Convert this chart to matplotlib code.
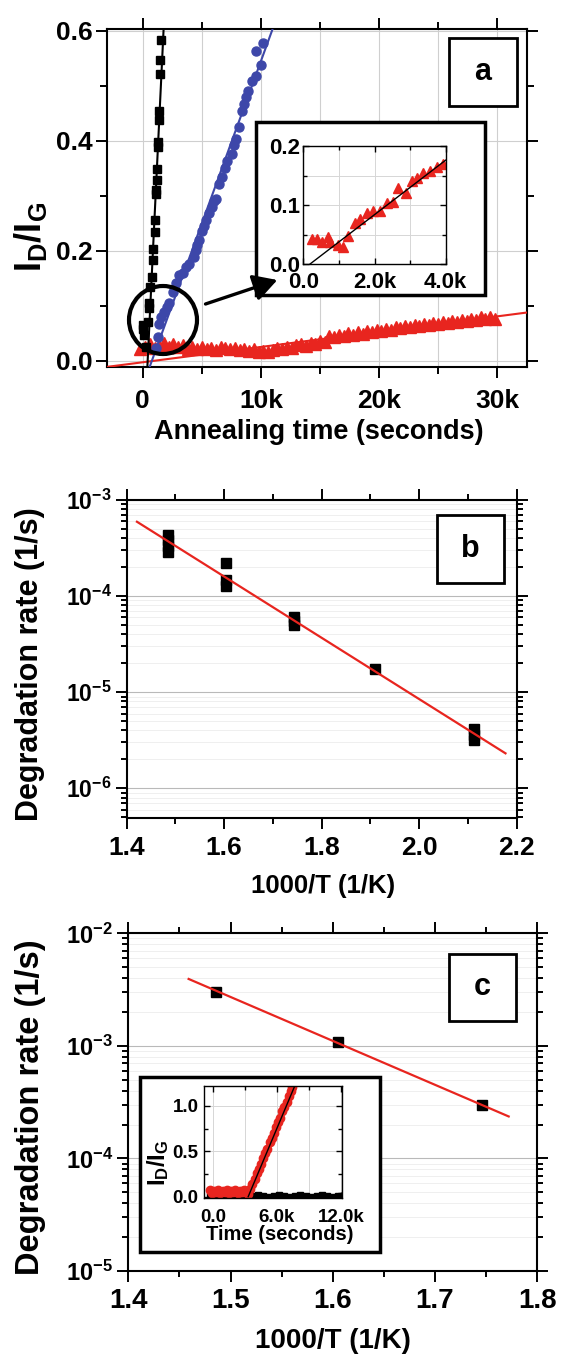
import numpy as np
import matplotlib
matplotlib.use("Agg")
import matplotlib.pyplot as plt
from matplotlib.patches import Rectangle, Ellipse, FancyArrowPatch
from matplotlib.ticker import MultipleLocator, LogLocator, NullFormatter

RED = '#e8251f'
BLUE = '#3d47a9'

# ---- panel a : I_D/I_G against annealing time ----
a_black_t = [1550, 1490, 1430, 1350, 1400, 1300, 1290, 1210, 1180, 1130, 1110, 1050,
             1040, 900, 850, 760, 620, 565, 507, 424, 0, 0, 143, 287]
a_black_r = [0.583, 0.547, 0.521, 0.454, 0.437, 0.398, 0.389, 0.349, 0.328, 0.310, 0.304, 0.256,
             0.234, 0.204, 0.183, 0.153, 0.135, 0.105, 0.096, 0.071, 0.065, 0.058, 0.047, 0.026]

a_blue_t = [10200, 9560, 9980, 9560, 9280, 8900, 8720, 8580, 8430, 8150, 7870, 7700, 7590, 7170,
            7000, 6750, 6470, 6190, 6000, 5900, 5620, 5350, 5200, 5060, 4780, 4620, 4500, 4360,
            3940, 3650, 3400, 3090, 2820, 2550, 2250, 2050, 1830, 1550, 1410, 1270, 1130]
a_blue_r = [0.577, 0.564, 0.537, 0.518, 0.509, 0.490, 0.479, 0.467, 0.455, 0.425, 0.404, 0.392, 0.376, 0.364,
            0.350, 0.334, 0.322, 0.295, 0.290, 0.280, 0.268, 0.256, 0.245, 0.237, 0.219, 0.210, 0.201, 0.189,
            0.177, 0.170, 0.160, 0.156, 0.141, 0.125, 0.105, 0.098, 0.089, 0.080, 0.068, 0.044, 0.023]

a_red_t = [-200, 200, 600, 1000, 1400, 1800, 2200, 2600, 3000, 3400,
           3800, 4200, 4600, 5000, 5400, 5800, 6200, 6600, 7000, 7400,
           7800, 8200, 8600, 9000, 9400, 9800, 10200, 10600, 11000, 11400,
           11800, 12200, 12600, 13000, 13400, 13800, 14200, 14600, 15000, 15400,
           15800, 16200, 16600, 17000, 17400, 17800, 18200, 18600, 19000, 19400,
           19800, 20200, 20600, 21000, 21400, 21800, 22200, 22600, 23000, 23400,
           23800, 24200, 24600, 25000, 25400, 25800, 26200, 26600, 27000, 27400,
           27800, 28200, 28600, 29000, 29400, 29800]
a_red_r = [0.022, 0.026, 0.031, 0.024, 0.028, 0.033, 0.025, 0.030, 0.026, 0.029,
           0.022, 0.025, 0.021, 0.026, 0.022, 0.024, 0.020, 0.025, 0.023, 0.021,
           0.024, 0.020, 0.022, 0.019, 0.021, 0.017, 0.019, 0.016, 0.020, 0.023,
           0.021, 0.026, 0.024, 0.029, 0.031, 0.028, 0.033, 0.031, 0.036, 0.034,
           0.046, 0.043, 0.047, 0.045, 0.050, 0.048, 0.052, 0.049, 0.054, 0.052,
           0.056, 0.054, 0.058, 0.056, 0.061, 0.059, 0.063, 0.061, 0.066, 0.063,
           0.067, 0.065, 0.069, 0.067, 0.071, 0.069, 0.073, 0.071, 0.074, 0.072,
           0.077, 0.074, 0.079, 0.076, 0.080, 0.077]

# fitted lines, end points
a_fit_black_t = [395, 1769]
a_fit_black_r = [-0.011, 0.603]
a_fit_blue_t = [584, 10990]
a_fit_blue_r = [-0.011, 0.603]
a_fit_red_t = [-3040, 32500]
a_fit_red_r = [-0.0108, 0.088]

a_xticks = [0, 10000, 20000, 30000]
a_xlabels = ['0', '10k', '20k', '30k']
a_yticks = [0.0, 0.2, 0.4, 0.6]
a_ylabels = ['0.0', '0.2', '0.4', '0.6']

# inset of panel a (first 4k seconds, red set)
ins_a_t = [240, 380, 520, 700, 750, 980, 1120, 1260, 1450, 1590, 1800, 1970, 2150, 2340,
           2530, 2670, 2880, 3040, 3180, 3350, 3560, 3750, 3930]
ins_a_r = [0.043, 0.043, 0.038, 0.045, 0.038, 0.032, 0.029, 0.047, 0.069, 0.077, 0.087, 0.089,
           0.089, 0.104, 0.105, 0.128, 0.120, 0.140, 0.146, 0.154, 0.157, 0.164, 0.169]
ins_a_fit_t = [190, 4000]
ins_a_fit_r = [0.0, 0.176]
ins_a_xticks = [0, 2000, 4000]
ins_a_xlabels = ['0.0', '2.0k', '4.0k']
ins_a_yticks = [0.0, 0.1, 0.2]
ins_a_ylabels = ['0.0', '0.1', '0.2']

# ---- panel b : Arrhenius plot ----
b_x = [1.485, 1.485, 1.485, 1.485, 1.604, 1.604, 1.604, 1.744, 1.744, 1.744, 1.909, 2.113, 2.113, 2.113]
b_rate = [4.3e-4, 3.8e-4, 3.3e-4, 2.9e-4, 2.23e-4, 1.47e-4, 1.27e-4, 6.1e-5, 5.5e-5, 5.0e-5,
          1.73e-5, 4.1e-6, 3.6e-6, 3.2e-6]
b_fit_x = [1.421, 2.177]
b_fit_rate = [5.94e-4, 2.31e-6]
b_xticks = [1.4, 1.6, 1.8, 2.0, 2.2]
b_xlabels = ['1.4', '1.6', '1.8', '2.0', '2.2']
b_yticks = [1e-6, 1e-5, 1e-4, 1e-3]
b_ylabels = [r'$\mathbf{10^{-6}}$', r'$\mathbf{10^{-5}}$', r'$\mathbf{10^{-4}}$', r'$\mathbf{10^{-3}}$']

# ---- panel c ----
c_x = [1.486, 1.605, 1.746]
c_rate = [3.02e-3, 1.09e-3, 2.99e-4]
c_fit_x = [1.459, 1.772]
c_fit_rate = [3.93e-3, 2.36e-4]
c_xticks = [1.4, 1.5, 1.6, 1.7, 1.8]
c_xlabels = ['1.4', '1.5', '1.6', '1.7', '1.8']
c_yticks = [1e-5, 1e-4, 1e-3, 1e-2]
c_ylabels = [r'$\mathbf{10^{-5}}$', r'$\mathbf{10^{-4}}$', r'$\mathbf{10^{-3}}$', r'$\mathbf{10^{-2}}$']

# inset of panel c
ins_c_black_t = [-300, 200, 700, 1200, 1700, 2200, 2700, 3200, 3700, 4200, 4700, 5200, 5700,
                 6200, 6700, 7200, 7700, 8200, 8700, 9200, 9700, 10200, 10700, 11200, 11700, 12000]
ins_c_black_r = [0.01, 0.00, 0.01, 0.00, 0.01, 0.00, 0.01, 0.00, 0.01, 0.02, 0.01, 0.00, 0.01,
                 0.02, 0.01, 0.00, 0.01, 0.02, 0.01, 0.00, 0.01, 0.02, 0.01, 0.00, 0.01, 0.01]
ins_c_red_t = [-300, -100, 100, 300, 500, 700, 900, 1100, 1300, 1500, 1700, 1900, 2100, 2300,
               2500, 2700, 2900, 3100, 3300, 3500, 3700, 3900, 4100, 4300, 4500, 4700, 4900,
               5100, 5300, 5500, 5700, 5900, 6100, 6300, 6500, 6700, 6900, 7100, 7300, 7450]
ins_c_red_r = [0.07, 0.04, 0.06, 0.05, 0.07, 0.04, 0.06, 0.05, 0.07, 0.04, 0.06, 0.05, 0.07, 0.04,
               0.06, 0.05, 0.07, 0.05, 0.03, 0.09, 0.14, 0.19, 0.26, 0.31, 0.36, 0.43, 0.48,
               0.53, 0.60, 0.65, 0.70, 0.77, 0.82, 0.87, 0.94, 0.99, 1.04, 1.11, 1.16, 1.21]
ins_c_fit_t = [3300, 7660]
ins_c_fit_r = [0.0, 1.22]
ins_c_xticks = [0, 6000, 12000]
ins_c_xlabels = ['0.0', '6.0k', '12.0k']
ins_c_yticks = [0.0, 0.5, 1.0]
ins_c_ylabels = ['0.0', '0.5', '1.0']

plt.rcParams['font.family'] = ['Liberation Sans', 'DejaVu Sans']
plt.rcParams['font.weight'] = 'bold'
plt.rcParams['mathtext.fontset'] = 'custom'
plt.rcParams['mathtext.rm'] = 'Liberation Sans:bold'
plt.rcParams['mathtext.bf'] = 'Liberation Sans:bold'
plt.rcParams['mathtext.it'] = 'Liberation Sans:bold'

W, H = 561, 1358
fig = plt.figure(figsize=(W / 100, H / 100), dpi=100)


def axes_px(left, top, right, bottom, z=0):
    return fig.add_axes([left / W, 1 - bottom / H, (right - left) / W, (bottom - top) / H], zorder=z)


def frame_px(left, top, right, bottom, lw, z):
    fig.add_artist(Rectangle((left / W, 1 - bottom / H), (right - left) / W, (bottom - top) / H,
                             transform=fig.transFigure, facecolor='white', edgecolor='black',
                             lw=lw, zorder=z))


def panel_letter(left, top, right, bottom, letter):
    frame_px(left, top, right, bottom, 2.0, 2)
    fig.text((left + right) / 2 / W, 1 - (top + bottom) / 2 / H, letter, ha='center', va='center',
             fontsize=22, fontweight='bold', zorder=3)


def style(ax, direction='out', length=7, minor_len=4, width=1.4, spine=1.5):
    ax.tick_params(which='both', direction=direction, top=True, right=True, width=width)
    ax.tick_params(which='major', length=length)
    ax.tick_params(which='minor', length=minor_len)
    for s in ax.spines.values():
        s.set_linewidth(spine)


def labels(ax, xtext, ytext, xpos, ypos, xsize, ysize):
    ax.set_xlabel(xtext, fontsize=xsize, fontweight='bold')
    ax.set_ylabel(ytext, fontsize=ysize, fontweight='bold')
    ax.xaxis.set_label_coords(*xpos)
    ax.yaxis.set_label_coords(*ypos)
    ax.xaxis.label.set_va('center')
    ax.yaxis.label.set_va('center')


# ================= panel a =================
axA = axes_px(107, 28.5, 526.7, 366.7)
axA.plot(a_red_t, a_red_r, '^', color=RED, ms=8, mec=RED, zorder=2)
axA.plot(a_blue_t, a_blue_r, 'o', color=BLUE, ms=6.5, mec=BLUE, zorder=2)
axA.plot(a_black_t, a_black_r, 's', color='black', ms=5.5, zorder=2)
axA.plot(a_fit_red_t, a_fit_red_r, '-', color=RED, lw=1.5, zorder=3)
axA.plot(a_fit_blue_t, a_fit_blue_r, '-', color=BLUE, lw=1.5, zorder=3)
axA.plot(a_fit_black_t, a_fit_black_r, '-', color='black', lw=1.5, zorder=3)
axA.set_xlim(-3020, 32490)
axA.set_ylim(-0.0104, 0.604)
axA.set_xticks(a_xticks, a_xlabels)
axA.set_yticks(a_yticks, a_ylabels)
axA.xaxis.set_minor_locator(MultipleLocator(5000))
axA.yaxis.set_minor_locator(MultipleLocator(0.1))
axA.grid(True, which='both', axis='x', color='#cfcfcf', lw=0.8)
axA.grid(True, which='major', axis='y', color='#cfcfcf', lw=0.8)
axA.set_axisbelow(True)
style(axA, length=8, minor_len=5)
axA.tick_params(axis='x', labelsize=19, pad=8)
axA.tick_params(axis='y', labelsize=19, pad=2)
labels(axA, 'Annealing time (seconds)', r'$\mathbf{I_D/I_G}$', (0.5035, -0.193), (-0.1825, 0.3835), 19.5, 26)

panel_letter(449, 38.3, 517, 106, 'a')

# inset of panel a
frame_px(255.8, 121.7, 484.8, 295, 2.5, 2)
axAi = axes_px(303.3, 146, 445.7, 264, z=3)
axAi.plot(ins_a_t, ins_a_r, '^', color=RED, ms=7, mec=RED, zorder=2)
axAi.plot(ins_a_fit_t, ins_a_fit_r, '-', color='black', lw=1.0, zorder=3)
axAi.set_xlim(0, 4000)
axAi.set_ylim(0, 0.2)
axAi.set_xticks(ins_a_xticks, ins_a_xlabels)
axAi.set_yticks(ins_a_yticks, ins_a_ylabels)
axAi.xaxis.set_minor_locator(MultipleLocator(1000))
axAi.yaxis.set_minor_locator(MultipleLocator(0.05))
axAi.grid(True, which='both', color='#d6d6d6', lw=0.7)
axAi.set_axisbelow(True)
style(axAi, direction='in', length=4, minor_len=3, width=1.0, spine=1.0)
axAi.tick_params(axis='x', labelsize=16, pad=6)
axAi.tick_params(axis='y', labelsize=16, pad=2)

# circle around the early data and arrow towards the inset
fig.add_artist(Ellipse((163 / W, 1 - 320 / H), 68 / W, 68 / H, transform=fig.transFigure,
                       fill=False, ec='black', lw=3, zorder=4))
fig.add_artist(FancyArrowPatch((205.5 / W, 1 - 304 / H), (277.3 / W, 1 - 280 / H),
                               transform=fig.transFigure,
                               arrowstyle='-|>,head_length=0.8,head_width=0.45',
                               mutation_scale=18, lw=2.4, color='black',
                               shrinkA=0, shrinkB=0, zorder=4))

# ================= panel b =================
axB = axes_px(126.7, 500, 516.7, 818.3)
axB.set_yscale('log')
axB.plot(b_fit_x, b_fit_rate, '-', color=RED, lw=1.6, zorder=3)
axB.plot(b_x, b_rate, 's', color='black', ms=7, zorder=2)
axB.set_xlim(1.4, 2.2)
axB.set_ylim(4.87e-7, 1e-3)
axB.set_xticks(b_xticks, b_xlabels)
axB.set_yticks(b_yticks, b_ylabels)
axB.xaxis.set_minor_locator(MultipleLocator(0.1))
axB.yaxis.set_minor_locator(LogLocator(base=10, subs=np.arange(2, 10)))
axB.yaxis.set_minor_formatter(NullFormatter())
axB.yaxis.grid(True, which='major', color='#b9b9b9', lw=0.8)
axB.yaxis.grid(True, which='minor', color='#ececec', lw=0.6)
axB.set_axisbelow(True)
style(axB, length=8, minor_len=4)
axB.tick_params(axis='x', labelsize=19, pad=5)
axB.tick_params(axis='y', labelsize=16.5, pad=3)
labels(axB, '1000/T (1/K)', 'Degradation rate (1/s)', (0.504, -0.213), (-0.248, 0.485), 18.5, 22)

panel_letter(436.5, 515, 503.7, 582.7, 'b')

# ================= panel c =================
axC = axes_px(128.3, 933.3, 537.3, 1271)
axC.set_yscale('log')
axC.plot(c_fit_x, c_fit_rate, '-', color=RED, lw=1.6, zorder=3)
axC.plot(c_x, c_rate, 's', color='black', ms=7, zorder=2)
axC.set_xlim(1.4, 1.8)
axC.set_ylim(1e-5, 1e-2)
axC.set_xticks(c_xticks, c_xlabels)
axC.set_yticks(c_yticks, c_ylabels)
axC.xaxis.set_minor_locator(MultipleLocator(0.05))
axC.yaxis.set_minor_locator(LogLocator(base=10, subs=np.arange(2, 10)))
axC.yaxis.set_minor_formatter(NullFormatter())
axC.yaxis.grid(True, which='major', color='#b9b9b9', lw=0.8)
axC.yaxis.grid(True, which='minor', color='#ececec', lw=0.6)
axC.set_axisbelow(True)
style(axC, length=8, minor_len=4)
axC.tick_params(axis='x', labelsize=20, pad=4)
axC.tick_params(axis='y', labelsize=17, pad=3)
labels(axC, '1000/T (1/K)', 'Degradation rate (1/s)', (0.501, -0.208), (-0.238, 0.4865), 20, 23.5)

panel_letter(449, 954, 516, 1020.7, 'c')

# inset of panel c
frame_px(140, 1076.7, 380, 1251.7, 2.5, 2)
axCi = axes_px(204, 1086, 341.7, 1198.3, z=3)
axCi.plot(ins_c_black_t, ins_c_black_r, 's', color='black', ms=5, zorder=2)
axCi.plot(ins_c_red_t, ins_c_red_r, 'o', color=RED, ms=6, mec=RED, zorder=2)
axCi.plot(ins_c_fit_t, ins_c_fit_r, '-', color='black', lw=1.0, zorder=3)
axCi.set_xlim(-840, 12060)
axCi.set_ylim(-0.018, 1.22)
axCi.set_xticks(ins_c_xticks, ins_c_xlabels)
axCi.set_yticks(ins_c_yticks, ins_c_ylabels)
axCi.xaxis.set_minor_locator(MultipleLocator(3000))
axCi.yaxis.set_minor_locator(MultipleLocator(0.25))
axCi.grid(True, which='both', axis='x', color='#d6d6d6', lw=0.7)
axCi.grid(True, which='major', axis='y', color='#d6d6d6', lw=0.7)
axCi.set_axisbelow(True)
style(axCi, direction='in', length=4, minor_len=3, width=1.0, spine=1.0)
axCi.tick_params(axis='x', labelsize=13.5, pad=8)
axCi.tick_params(axis='y', labelsize=13.5, pad=4)
labels(axCi, 'Time (seconds)', r'$\mathbf{I_D/I_G}$', (0.552, -0.318), (-0.334, 0.314), 14.5, 17)

fig.savefig('out.png', dpi=100)
